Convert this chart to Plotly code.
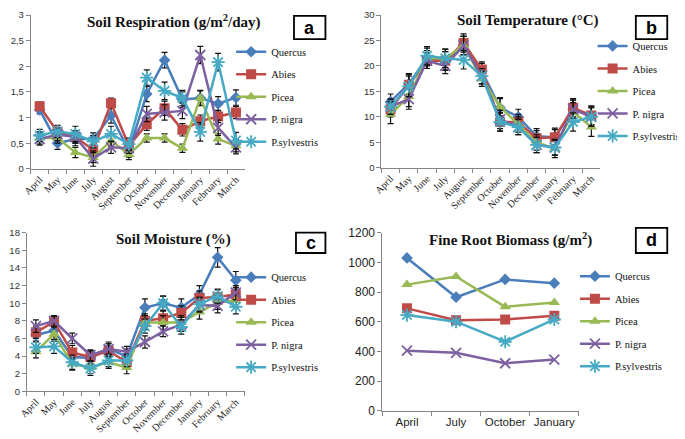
import plotly.graph_objects as go

months = ["April", "May", "June", "July", "August", "September", "October",
          "November", "December", "January", "February", "March"]
seasons = ["April", "July", "October", "January"]
species = ["Quercus", "Abies", "Picea", "P. nigra", "P.sylvestris"]

# Soil respiration (g/m2/day)
resp_quercus = [1.15, 0.50, 0.58, 0.58, 1.04, 0.35, 1.46, 2.12, 1.35, 1.38, 1.27, 1.39]
resp_abies = [1.22, 0.72, 0.62, 0.37, 1.28, 0.45, 0.87, 1.18, 0.76, 0.93, 1.02, 1.10]
resp_picea = [0.60, 0.60, 0.32, 0.22, 0.55, 0.28, 0.60, 0.60, 0.40, 1.38, 0.58, 0.45]
resp_nigra = [0.58, 0.67, 0.62, 0.20, 0.42, 0.40, 1.07, 1.10, 1.13, 2.22, 0.80, 0.42]
resp_sylv = [0.65, 0.73, 0.68, 0.53, 0.68, 0.48, 1.78, 1.52, 1.38, 0.72, 2.08, 0.55]
resp_err_quercus = [0.08, 0.12, 0.13, 0.12, 0.15, 0.12, 0.15, 0.15, 0.15, 0.14, 0.14, 0.15]
resp_err_abies = [0.08, 0.12, 0.12, 0.10, 0.10, 0.10, 0.12, 0.14, 0.12, 0.12, 0.12, 0.12]
resp_err_picea = [0.12, 0.10, 0.10, 0.10, 0.12, 0.10, 0.08, 0.08, 0.08, 0.15, 0.10, 0.12]
resp_err_nigra = [0.12, 0.12, 0.12, 0.15, 0.12, 0.10, 0.15, 0.15, 0.15, 0.17, 0.15, 0.13]
resp_err_sylv = [0.12, 0.12, 0.15, 0.12, 0.15, 0.12, 0.15, 0.17, 0.15, 0.18, 0.17, 0.16]

# Soil temperature (C)
temp_quercus = [13.0, 16.5, 21.5, 21.0, 24.0, 19.0, 11.8, 10.0, 6.2, 6.0, 11.5, 10.3]
temp_abies = [11.5, 16.3, 21.0, 21.0, 24.5, 19.3, 9.0, 9.0, 5.8, 6.0, 11.8, 10.3]
temp_picea = [10.5, 14.0, 21.5, 21.5, 24.0, 17.5, 12.0, 8.5, 5.0, 3.8, 11.0, 8.0]
temp_nigra = [12.0, 13.5, 21.0, 20.0, 24.0, 18.0, 9.5, 8.0, 4.5, 4.0, 11.5, 10.0]
temp_sylv = [12.0, 16.0, 22.0, 21.5, 21.2, 18.0, 9.0, 8.0, 4.5, 4.0, 9.0, 10.0]
temp_err_quercus = [1.5, 2.0, 2.0, 1.8, 1.8, 1.5, 1.8, 1.5, 1.5, 1.8, 1.8, 1.8]
temp_err_abies = [1.5, 2.0, 1.5, 1.8, 1.8, 1.5, 1.8, 1.5, 1.5, 1.5, 1.8, 1.8]
temp_err_picea = [1.8, 2.0, 1.5, 1.8, 1.8, 1.5, 1.8, 1.5, 1.5, 1.8, 1.8, 1.8]
temp_err_nigra = [1.5, 2.0, 1.5, 1.5, 1.8, 1.5, 1.8, 1.5, 1.5, 1.5, 1.8, 1.8]
temp_err_sylv = [1.5, 2.0, 1.8, 1.8, 1.8, 1.5, 1.8, 1.5, 1.5, 1.5, 1.8, 1.8]

# Soil moisture (%)
moist_quercus = [6.4, 6.9, 3.9, 3.8, 4.8, 4.0, 9.5, 10.0, 9.5, 11.0, 15.2, 12.6]
moist_abies = [6.7, 7.9, 4.4, 3.9, 4.6, 3.3, 8.0, 8.3, 8.9, 10.6, 10.7, 11.0]
moist_picea = [4.5, 6.5, 3.1, 2.7, 3.3, 2.7, 7.8, 7.8, 7.8, 9.0, 10.1, 10.3]
moist_nigra = [7.4, 8.0, 6.0, 4.1, 4.8, 4.5, 5.6, 6.8, 7.6, 9.8, 9.7, 11.2]
moist_sylv = [5.0, 5.1, 3.3, 2.6, 3.5, 3.5, 7.4, 10.0, 7.3, 9.9, 10.8, 9.6]
moist_err_quercus = [0.8, 0.7, 0.8, 0.8, 0.8, 0.8, 1.0, 0.8, 1.0, 1.0, 1.1, 1.0]
moist_err_abies = [0.7, 0.6, 0.8, 0.7, 0.8, 0.8, 0.8, 0.8, 0.8, 0.8, 0.8, 0.8]
moist_err_picea = [0.7, 0.8, 0.7, 0.7, 0.7, 0.7, 0.8, 0.8, 0.8, 0.8, 0.8, 0.8]
moist_err_nigra = [0.7, 0.6, 0.6, 0.6, 0.6, 0.6, 0.7, 0.6, 0.8, 0.8, 0.8, 0.8]
moist_err_sylv = [0.7, 0.8, 0.8, 0.8, 0.7, 0.7, 0.8, 0.8, 0.8, 0.8, 0.8, 0.8]

# Fine root biomass (g/m2)
root_quercus = [1030, 765, 885, 860]
root_abies = [690, 610, 615, 640]
root_picea = [850, 905, 700, 730]
root_nigra = [405, 390, 320, 345]
root_sylv = [645, 600, 465, 615]

colors = ["#4A7EBB", "#BE4B48", "#98B954", "#7D60A0", "#46AAC5"]
symbols = ["diamond", "square", "triangle-up", "x-thin-open", "asterisk-open"]
msizes = [9, 10, 10, 10, 11]

# page body has an 8px margin: lay out in screen pixels, shift into figure coords
OFF = 8
W, H = 685 - OFF, 439 - OFF
def fx(x):
    return (x - OFF) / W
def fy(y):
    return min(1.0, 1 - (y - OFF) / H)
def px(x0, x1):
    return [fx(x0), fx(x1)]
def py(ytop, ybot):
    return [fy(ybot), fy(ytop)]

fig = go.Figure()

panels = [
    ("x", "y", months, [resp_quercus, resp_abies, resp_picea, resp_nigra, resp_sylv],
     [resp_err_quercus, resp_err_abies, resp_err_picea, resp_err_nigra, resp_err_sylv], "legend"),
    ("x2", "y2", months, [temp_quercus, temp_abies, temp_picea, temp_nigra, temp_sylv],
     [temp_err_quercus, temp_err_abies, temp_err_picea, temp_err_nigra, temp_err_sylv], "legend2"),
    ("x3", "y3", months, [moist_quercus, moist_abies, moist_picea, moist_nigra, moist_sylv],
     [moist_err_quercus, moist_err_abies, moist_err_picea, moist_err_nigra, moist_err_sylv], "legend3"),
    ("x4", "y4", seasons, [root_quercus, root_abies, root_picea, root_nigra, root_sylv],
     None, "legend4"),
]

for xa, ya, cats, series, errs, leg in panels:
    for i, name in enumerate(species):
        open_sym = symbols[i].endswith("open")
        marker = dict(symbol=symbols[i], size=msizes[i], color=colors[i],
                      line=dict(color=colors[i], width=1.8 if open_sym else 0))
        tr = dict(x=cats, y=series[i], name=name, mode="lines+markers",
                  line=dict(color=colors[i], width=2.5), marker=marker,
                  xaxis=xa, yaxis=ya, legend=leg, legendgroup=leg + name)
        if errs is not None:
            tr["error_y"] = dict(type="data", array=errs[i], visible=True,
                                 color="#111111", thickness=1.2, width=3)
        fig.add_trace(go.Scatter(**tr))

axis_common = dict(showline=True, linecolor="#868686", linewidth=1, showgrid=False,
                   zeroline=False, ticks="outside", ticklen=4, tickcolor="#868686")
xfont = dict(family="Liberation Serif", size=10, color="#222")
yfont = dict(family="Liberation Sans", size=9.5, color="#333")
dfont = dict(family="Liberation Sans", size=12, color="#222")

fig.update_layout(
    width=W, height=H, margin=dict(l=0, r=0, t=0, b=0),
    paper_bgcolor="white", plot_bgcolor="white", showlegend=True,
    xaxis=dict(domain=px(22, 240), anchor="y", type="category", categoryarray=months,
               tickson="boundaries", tickangle=-45, tickfont=xfont, range=[-0.5, 11.5], **axis_common),
    yaxis=dict(domain=py(8, 167), anchor="x", range=[0, 3],
               tickvals=[0, 0.5, 1, 1.5, 2, 2.5, 3],
               ticktext=["0", "0,5", "1", "1,5", "2", "2,5", "3"], tickfont=yfont, **axis_common),
    xaxis2=dict(domain=px(379, 602), anchor="y2", type="category", categoryarray=months,
                tickson="boundaries", tickangle=-45, tickfont=xfont, range=[-0.5, 11.5], **axis_common),
    yaxis2=dict(domain=py(8, 166), anchor="x2", range=[0, 30], dtick=5, tickfont=yfont, **axis_common),
    xaxis3=dict(domain=px(18, 240), anchor="y3", type="category", categoryarray=months,
                tickson="boundaries", tickangle=-45, tickfont=xfont, range=[-0.5, 11.5], **axis_common),
    yaxis3=dict(domain=py(233, 397), anchor="x3", range=[0, 18], dtick=2, tickfont=yfont, **axis_common),
    xaxis4=dict(domain=px(380, 580), anchor="y4", type="category", categoryarray=seasons,
                tickson="boundaries", tickangle=0, range=[-0.5, 3.5],
                tickfont=dict(family="Liberation Sans", size=11.5, color="#222"), **axis_common),
    yaxis4=dict(domain=py(233, 417), anchor="x4", range=[0, 1200], dtick=200,
                tickfont=dfont, **axis_common),
)

leg_font = dict(family="Liberation Serif", size=10.5, color="#111")
def legend_at(x, ytop):
    return dict(x=fx(x), y=fy(ytop), xanchor="left", yanchor="top",
                bgcolor="rgba(0,0,0,0)", font=leg_font, tracegroupgap=3.5,
                itemwidth=30, borderwidth=0)

fig.update_layout(
    legend=legend_at(226, 31),
    legend2=legend_at(594, 25),
    legend3=legend_at(226, 264),
    legend4=legend_at(576, 263),
)

titles = [
    ("Soil Respiration (g/m<sup>2</sup>/day)", 168, 15),
    ("Soil Temperature (°C)", 528, 14),
    ("Soil Moisture (%)", 167, 240),
    ("Fine Root Biomass (g/m<sup>2</sup>)", 510, 240),
]
for t, cx, cy in titles:
    fig.add_annotation(text="<b>" + t + "</b>", x=fx(cx), y=fy(cy), xref="paper", yref="paper",
                       showarrow=False, xanchor="center", yanchor="middle",
                       font=dict(family="Liberation Serif", size=15, color="#111"))

boxes = [("a", 290, 9, 322, 33), ("b", 638, 9, 670, 33), ("c", 292, 233, 322, 254), ("d", 638, 228, 670, 254)]
for lab, x0, y0, x1, y1 in boxes:
    fig.add_shape(type="rect", xref="paper", yref="paper", x0=fx(x0), x1=fx(x1),
                  y0=fy(y1), y1=fy(y0), line=dict(color="black", width=1.8), fillcolor="white")
    fig.add_annotation(text="<b>" + lab + "</b>", x=fx((x0 + x1) / 2), y=fy((y0 + y1) / 2),
                       xref="paper", yref="paper", showarrow=False, xanchor="center", yanchor="middle",
                       font=dict(family="Liberation Sans", size=18, color="black"))

fig.write_html("out.html")
